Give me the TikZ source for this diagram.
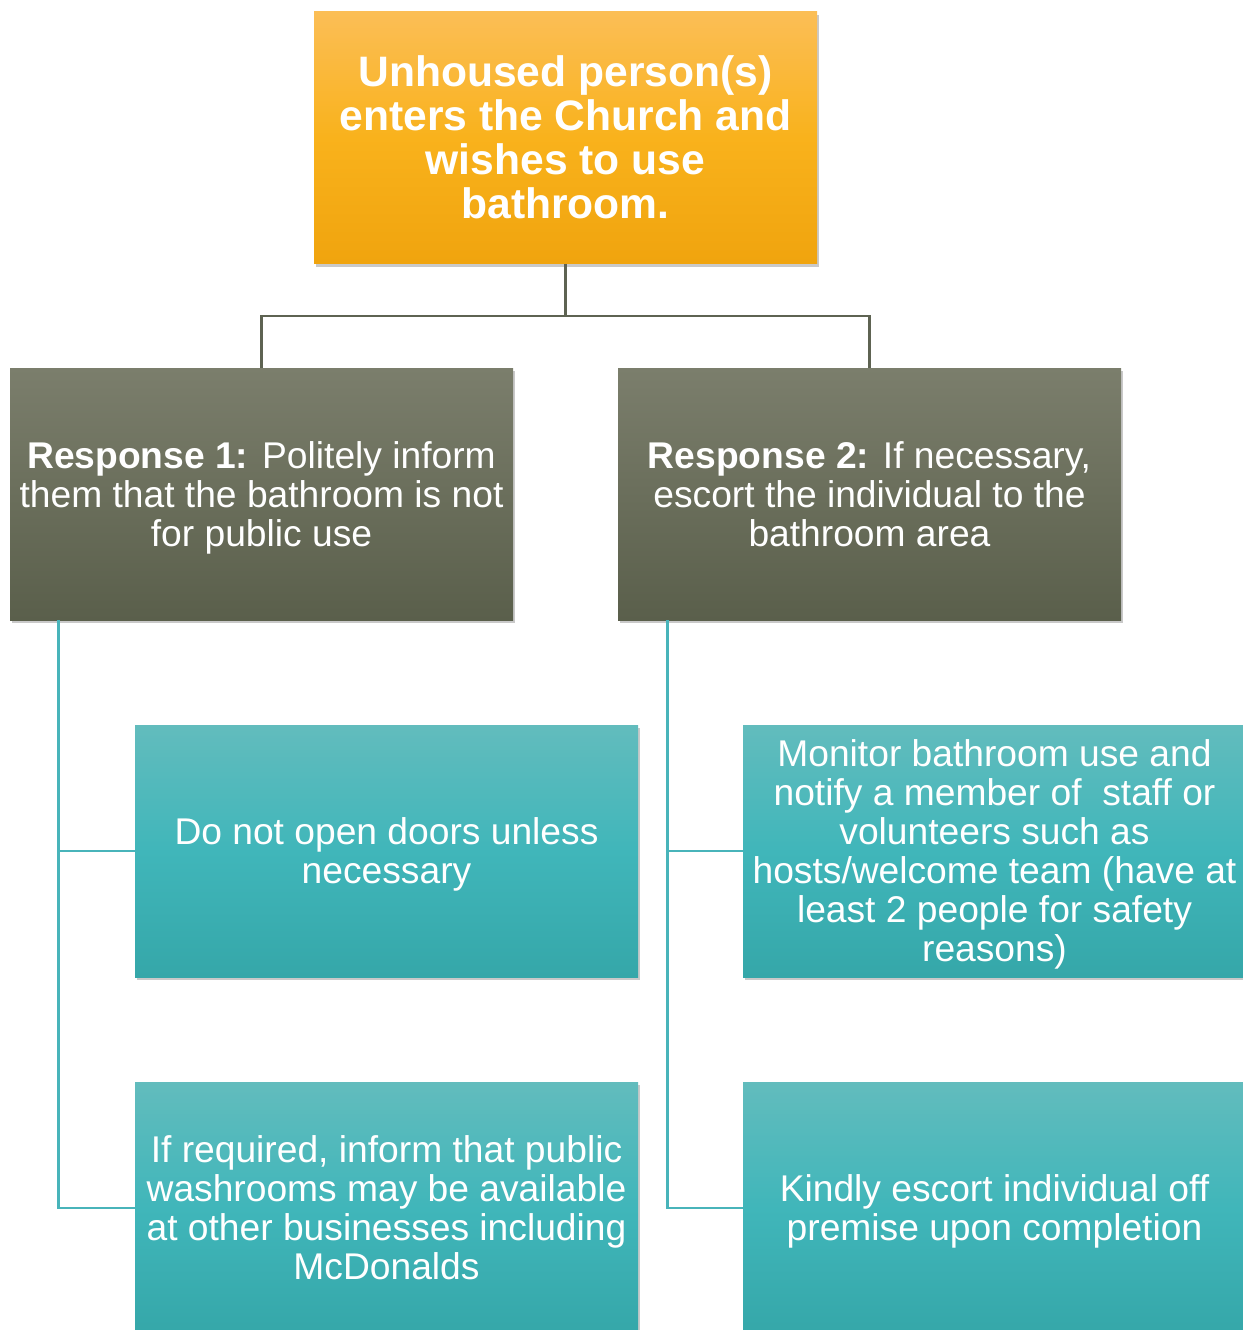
\documentclass[tikz,border=0pt]{standalone}
\usepackage{fontspec}
\setmainfont{Liberation Sans}
\usetikzlibrary{shadows}

\definecolor{orangetop}{RGB}{251,190,86}
\definecolor{orangemid}{RGB}{249,178,28}
\definecolor{orangebot}{RGB}{240,164,14}
\definecolor{greytop}{RGB}{123,126,108}
\definecolor{greybot}{RGB}{90,95,75}
\definecolor{tealtop}{RGB}{98,188,189}
\definecolor{tealmid}{RGB}{64,182,186}
\definecolor{tealbot}{RGB}{53,167,169}
\definecolor{treeline}{RGB}{94,99,82}
\definecolor{leafline}{RGB}{72,180,186}

\begin{document}
\begin{tikzpicture}[x=0.5pt,y=-0.5pt,
  box/.style={minimum width=251.5pt,minimum height=126pt,inner sep=0pt,align=center,text=white,
    text depth=0pt,
    drop shadow={shadow xshift=0.8pt,shadow yshift=-1.6pt,opacity=0.3,fill=black!70}},
  startbox/.style={box,top color=orangetop,bottom color=orangebot,middle color=orangemid,
    font=\fontsize{21.3pt}{22pt}\selectfont\bfseries},
  respbox/.style={box,top color=greytop,bottom color=greybot,
    font=\fontsize{18.6pt}{19.5pt}\selectfont},
  leafbox/.style={box,top color=tealtop,bottom color=tealbot,middle color=tealmid,
    font=\fontsize{18.6pt}{19.5pt}\selectfont},
  tree/.style={draw=treeline,line width=1.3pt},
  leaf/.style={draw=leafline,line width=1.3pt}]
  \useasboundingbox (0,0) rectangle (1243,1330);

  \node[startbox] (start) at (565.5,137.5) {Unhoused person(s)\\enters the Church and\\wishes to use\\bathroom.};
  \node[respbox] (resp1) at (261.5,494) {\textbf{Response 1:} Politely inform\\them that the bathroom is not\\for public use};
  \node[respbox] (resp2) at (869.5,494) {\textbf{Response 2:} If necessary,\\escort the individual to the\\bathroom area};

  \node[leafbox] (nodoor) at (386.5,851) {Do not open doors unless\\necessary};
  \node[leafbox] (washroom) at (386.5,1208) {If required, inform that public\\washrooms may be available\\at other businesses including\\McDonalds};
  \node[leafbox] (monitor) at (994.5,851) {Monitor bathroom use and\\notify a member of~ staff or\\volunteers such as\\hosts/welcome team (have at\\least 2 people for safety\\reasons)};
  \node[leafbox] (escort) at (994.5,1208) {Kindly escort individual off\\premise upon completion};

  \draw[tree] (start.south) -- ++(0,52) -| (resp1.north);
  \draw[tree] (start.south) -- ++(0,52) -| (resp2.north);

  \draw[leaf] ([xshift=24.5pt]resp1.south west) |- (nodoor.west);
  \draw[leaf] ([xshift=24.5pt]resp1.south west) |- (washroom.west);
  \draw[leaf] ([xshift=25pt]resp2.south west) |- (monitor.west);
  \draw[leaf] ([xshift=25pt]resp2.south west) |- (escort.west);
\end{tikzpicture}
\end{document}
